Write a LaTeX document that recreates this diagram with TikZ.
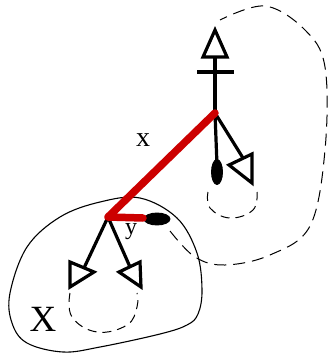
\documentclass[tikz,border=0pt]{standalone}
\usepackage{fontspec}
\setmainfont{Liberation Serif}
\usetikzlibrary{shapes.geometric}
\begin{document}
\begin{tikzpicture}[x=1pt,y=-1pt,
  wire/.style={line width=3.2pt,black},
  redwire/.style={line width=7.5pt,draw={rgb,255:red,204;green,0;blue,0},line cap=round,line join=round},
  tri/.style={line width=3.2pt,draw=black,fill=white,line join=miter},
  blob/.style={line width=0.9pt,draw=black,fill=black},
  bigdash/.style={line width=1pt,dash pattern=on 12pt off 7pt},
  smalldash/.style={line width=1pt,dash pattern=on 9pt off 6pt},
  region/.style={line width=1.1pt},
  lbl/.style={inner sep=0pt}]
\useasboundingbox (0,0) rectangle (331,356);
% key points
\coordinate (A) at (215,113);
\coordinate (B) at (108,217);
\coordinate (R) at (143,218);
% solid region X
\draw[region] plot[smooth cycle,tension=0.6] coordinates {(140,198) (177,218) (197,253) (202,290) (198,314) (187,325) (160,334) (100,347) (63,352) (27,343) (12,323) (10,293) (27,247) (60,217) (100,202)};
% big dashed loop
\draw[bigdash] plot[smooth,tension=0.6] coordinates {(170,231) (195,257) (225,265) (270,255) (310,226) (325,150) (325,67) (305,30) (265,6) (220,20)};
% small dashed loops
\draw[smalldash] plot[smooth,tension=0.7] coordinates {(70,293) (72,317) (97,332) (127,325) (137,307) (137,293)};
\draw[smalldash] plot[smooth,tension=0.7] coordinates {(208,192) (210,208) (230,218) (253,210) (257,192)};
% upper node
\coordinate (Ttop) at (215,57);
\coordinate (Bar1) at (197,72);
\coordinate (Bar2) at (234,72);
\coordinate (Ebot) at (217,165);
\coordinate (Tr1) at (243,158);
\draw[wire] (A) -- (Ttop);
\draw[wire] (Bar1) -- (Bar2);
\draw[wire] (A) -- (Ebot);
\draw[wire] (A) -- (Tr1);
\draw[tri] (215,30) -- (227,57) -- (203,57) -- cycle;
\draw[tri] (229,165) -- (252,154) -- (252,183) -- cycle;
\node[blob,ellipse,minimum width=11pt,minimum height=25pt,inner sep=0pt] (E1) at (217,172) {};
% lower node
\coordinate (L1) at (84,268);
\coordinate (L2) at (130,267);
\draw[wire] (B) -- (L1);
\draw[wire] (B) -- (L2);
\draw[tri] (70,262) -- (94,272) -- (70,287) -- cycle;
\draw[tri] (119,272) -- (140,262) -- (141,287) -- cycle;
\node[blob,ellipse,minimum width=26pt,minimum height=12pt,inner sep=0pt] (E2) at (157,219) {};
% red wire
\draw[redwire] (A) -- (B) -- (R);
% labels
\node[lbl,font=\fontsize{28}{32}\selectfont] (lx) at (143,140) {x};
\node[lbl,font=\fontsize{24}{28}\selectfont] (ly) at (131,232) {y};
\node[lbl,font=\fontsize{37}{42}\selectfont] (lX) at (43,319) {X};
\end{tikzpicture}
\end{document}
